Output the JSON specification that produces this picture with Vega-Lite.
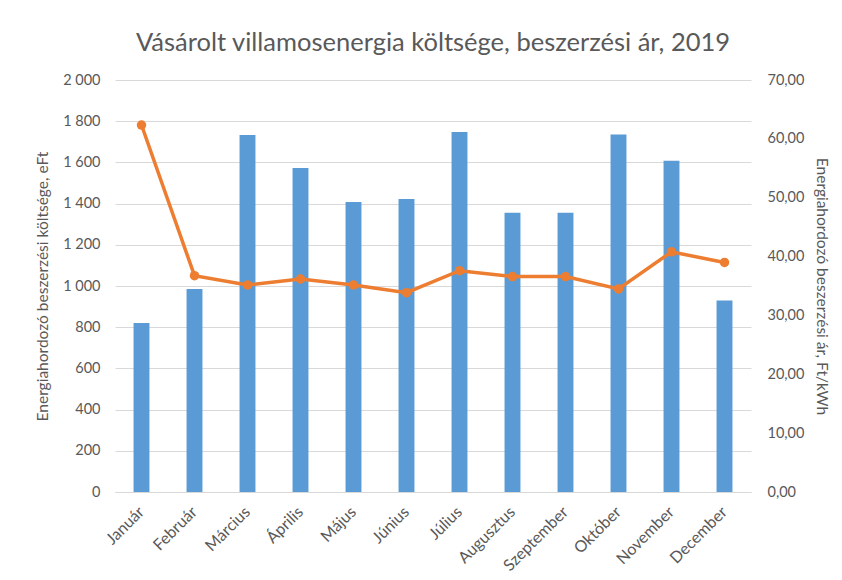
{
  "$schema": "https://vega.github.io/schema/vega-lite/v6.json",
  "width": 636,
  "height": 412,
  "autosize": "none",
  "padding": {"left": 115, "top": 80, "right": 91, "bottom": 88},
  "background": "white",
  "config": {
    "locale": {"number": {"decimal": ",", "thousands": " ", "grouping": [3], "currency": ["", ""]}},
    "font": "Lato",
    "view": {"stroke": null},
    "axis": {"labelColor": "#595959", "titleColor": "#595959", "labelFontSize": 14.5, "titleFontSize": 15.5, "titleFontWeight": "normal", "labelFont": "Lato", "titleFont": "Lato"}
  },
  "title": {"text": "Vásárolt villamosenergia költsége, beszerzési ár, 2019", "fontSize": 25.5, "fontWeight": "normal", "color": "#595959", "font": "Lato", "offset": 16},
  "data": {"values": [
    {"honap": "Január", "koltseg": 820, "ar": 62.35},
    {"honap": "Február", "koltseg": 985, "ar": 36.75},
    {"honap": "Március", "koltseg": 1733, "ar": 35.17},
    {"honap": "Április", "koltseg": 1573, "ar": 36.19},
    {"honap": "Május", "koltseg": 1408, "ar": 35.17},
    {"honap": "Június", "koltseg": 1422, "ar": 33.87},
    {"honap": "Július", "koltseg": 1748, "ar": 37.6},
    {"honap": "Augusztus", "koltseg": 1355, "ar": 36.6},
    {"honap": "Szeptember", "koltseg": 1355, "ar": 36.6},
    {"honap": "Október", "koltseg": 1736, "ar": 34.5},
    {"honap": "November", "koltseg": 1608, "ar": 40.8},
    {"honap": "December", "koltseg": 930, "ar": 39.0}
  ]},
  "encoding": {
    "x": {"field": "honap", "type": "nominal", "sort": null, "title": null,
      "scale": {"paddingInner": 0.7, "paddingOuter": 0.35},
      "axis": {"labelAngle": -45, "labelFontSize": 16, "labelAlign": "right", "labelBaseline": "middle", "ticks": false, "domainColor": "#D9D9D9", "domainWidth": 1, "labelPadding": 17, "labelOffset": 0, "grid": false}}
  },
  "layer": [
    {
      "mark": {"type": "bar", "color": "#5B9BD5"},
      "encoding": {
        "y": {"field": "koltseg", "type": "quantitative", "title": "Energiahordozó beszerzési költsége, eFt",
          "scale": {"domain": [0, 2000]},
          "axis": {"values": [0,200,400,600,800,1000,1200,1400,1600,1800,2000], "format": ",d", "ticks": false, "domain": false, "gridColor": "#D9D9D9", "gridWidth": 1, "labelPadding": 15, "titlePadding": 12}}
      }
    },
    {
      "mark": {"type": "line", "color": "#ED7D31", "strokeWidth": 3.5, "point": {"color": "#ED7D31", "size": 90, "filled": true, "opacity": 1}},
      "encoding": {
        "y": {"field": "ar", "type": "quantitative", "title": "Energiahordozó beszerzési ár, Ft/kWh",
          "scale": {"domain": [0, 70]},
          "axis": {"orient": "right", "values": [0,10,20,30,40,50,60,70], "format": ".2f", "ticks": false, "domain": false, "grid": false, "labelPadding": 16, "titlePadding": 10}}
      }
    }
  ],
  "resolve": {"scale": {"y": "independent"}}
}
